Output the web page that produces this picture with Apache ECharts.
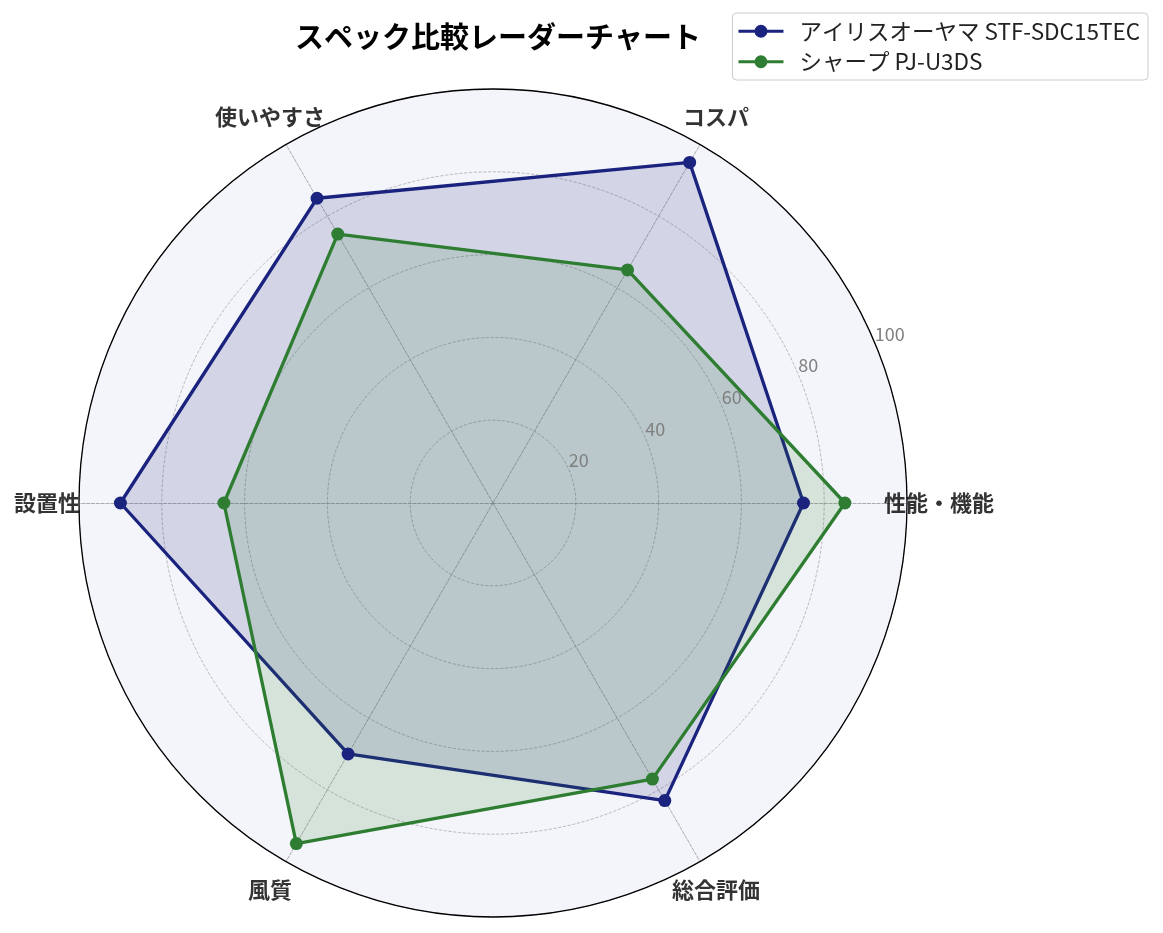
<!DOCTYPE html>
<html>
<head>
<meta charset="utf-8">
<script src="https://cdn.jsdelivr.net/npm/echarts@6/dist/echarts.min.js"></script>
<style>
  html, body { margin: 0; padding: 0; background: #fff; }
  #chart { width: 1163px; height: 933px; }
</style>
</head>
<body>
<div id="chart"></div>
<script>
// 軸の項目と各製品のスコア
var categories = ['性能・機能', 'コスパ', '使いやすさ', '設置性', '風質', '総合評価'];
var seriesNames = ['アイリスオーヤマ STF-SDC15TEC', 'シャープ PJ-U3DS'];
var irisValues = [75, 95, 85, 90, 70, 83];
var sharpValues = [85, 65, 75, 65, 95, 77];
var radialTicks = [20, 40, 60, 80, 100];

var colors = ['#1a237e', '#2e7d32'];
var cx = 493, cy = 503;

// 凡例アイコン: 線 + 丸
var legendIcon = 'path://M0,5L16.5,5L16.5,8L0,8Z M28.5,5L45,5L45,8L28.5,8Z M16,6.5A6.5,6.5,0,1,1,29,6.5A6.5,6.5,0,1,1,16,6.5Z';

function item(name, values, color) {
    return {
        name: name,
        value: values,
        itemStyle: { color: color },
        lineStyle: { color: color, width: 3.3 },
        areaStyle: { color: color, opacity: 0.15 }
    };
}

var option = {
    backgroundColor: '#fff',
    textStyle: { fontFamily: 'Noto Sans CJK JP' },
    title: {
        text: 'スペック比較レーダーチャート',
        left: cx,
        textAlign: 'center',
        top: 17,
        textStyle: { fontSize: 29, fontWeight: 'bold', color: '#000' }
    },
    legend: {
        orient: 'vertical',
        right: 15,
        top: 13,
        data: seriesNames,
        icon: legendIcon,
        itemWidth: 45,
        itemHeight: 13,
        itemGap: 8,
        padding: [7, 8, 7, 6],
        borderColor: '#ccc',
        borderWidth: 1,
        borderRadius: 4,
        itemStyle: { borderWidth: 0 },
        textStyle: { fontSize: 22.5, color: '#222', padding: [0, 0, 0, 11] }
    },
    radar: {
        center: [cx, cy],
        radius: 414,
        startAngle: 0,
        shape: 'circle',
        splitNumber: radialTicks.length,
        indicator: categories.map(function (c) { return { name: c, min: 0, max: radialTicks[radialTicks.length - 1] }; }),
        axisName: { show: false },
        axisLine: { lineStyle: { color: '#999', type: 'dashed', width: 0.8 } },
        splitLine: { lineStyle: { color: '#aaa', type: 'dashed', width: 0.8 } },
        splitArea: { show: true, areaStyle: { color: ['#f4f5fa'] } },
        axisTick: { show: false },
        axisLabel: { show: false }
    },
    polar: [
        { center: [cx, cy], radius: 414 },
        { center: [cx, cy], radius: 446 }
    ],
    angleAxis: [{
        polarIndex: 0,
        type: 'value',
        min: 0,
        max: 360,
        startAngle: 22.5,
        clockwise: false,
        z: 5,
        axisLine: { show: true, lineStyle: { color: '#000', width: 1.3 } },
        axisTick: { show: false },
        axisLabel: { show: false },
        splitLine: { show: false }
    }, {
        polarIndex: 1,
        type: 'value',
        min: 0,
        max: 360,
        startAngle: 0,
        clockwise: false,
        show: false
    }],
    radiusAxis: [{
        polarIndex: 0,
        min: 0,
        max: radialTicks[radialTicks.length - 1],
        interval: radialTicks[1] - radialTicks[0],
        z: 5,
        axisLine: { show: false },
        axisTick: { show: false },
        splitLine: { show: false },
        axisLabel: {
            color: '#808080',
            fontSize: 18,
            margin: 2,
            align: 'left',
            verticalAlign: 'bottom',
            formatter: function (v) { return radialTicks.indexOf(v) >= 0 ? String(v) : ''; }
        }
    }, {
        polarIndex: 1,
        min: 0,
        max: 1,
        show: false
    }],
    series: [{
        type: 'radar',
        symbol: 'circle',
        symbolSize: 13,
        z: 3,
        data: [
            item(seriesNames[0], irisValues, colors[0]),
            item(seriesNames[1], sharpValues, colors[1])
        ]
    }, {
        type: 'scatter',
        coordinateSystem: 'polar',
        polarIndex: 1,
        symbolSize: 0,
        silent: true,
        data: categories.map(function (c, i) {
            return { name: c, value: [1, i * 360 / categories.length] };
        }),
        label: {
            show: true,
            position: 'inside',
            formatter: '{b}',
            fontSize: 22,
            fontWeight: 'bold',
            color: '#000'
        }
    }]
};

var chart = echarts.init(document.getElementById('chart'));
chart.setOption(option);
</script>
</body>
</html>
